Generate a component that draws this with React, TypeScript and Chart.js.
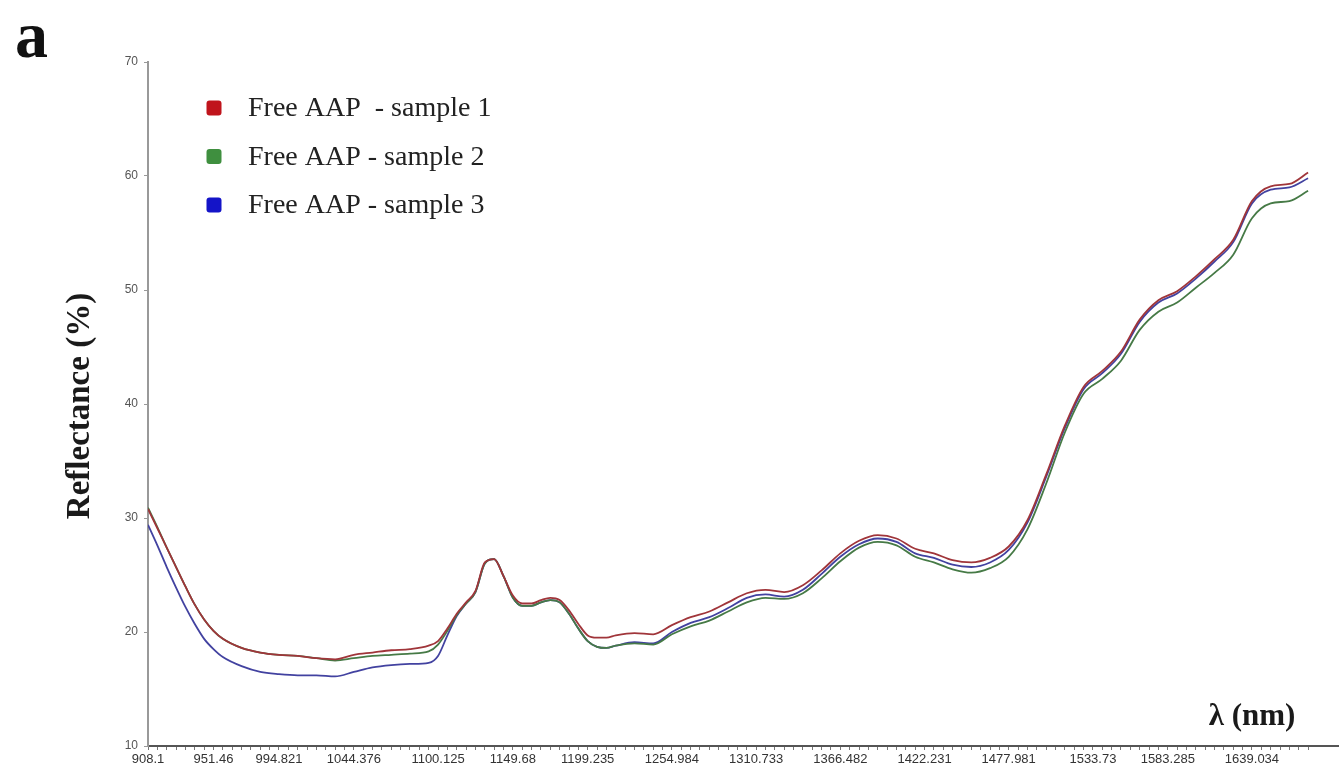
import React, { useEffect, useRef } from 'react';
import { Chart, registerables } from 'chart.js';

Chart.register(...registerables);

// Wavelengths (nm) of the plotted samples
const wavelengths = [
  908.1, 914.294, 920.489, 926.683, 932.877, 939.072, 945.266, 951.46, 957.655,
  970.044, 982.432, 994.821, 1007.21, 1019.598, 1031.987, 1044.376, 1056.765, 1069.153, 1081.542, 1093.931,
  1100.125, 1106.319, 1112.514, 1118.708, 1124.902, 1131.097, 1137.291, 1143.485, 1149.68, 1155.874,
  1162.069, 1168.263, 1174.457, 1180.652, 1186.846, 1193.04, 1199.235, 1205.429, 1211.623, 1217.818,
  1230.206, 1242.595, 1254.984, 1267.373, 1279.761, 1292.15, 1304.539, 1316.927, 1329.316, 1341.705,
  1354.094, 1366.482, 1378.871, 1391.26, 1403.648, 1416.037, 1428.426, 1440.815, 1453.203, 1465.592,
  1477.981, 1490.369, 1502.758, 1515.147, 1527.536, 1539.924, 1552.313, 1564.702, 1577.09, 1589.479,
  1601.868, 1614.257, 1626.645, 1639.034, 1651.423, 1663.811, 1676.2,
];

const sample1 = [
  30.8, 29.1, 27.4, 25.7, 24.0, 22.4, 21.1, 20.1, 19.4,
  18.6, 18.2, 18.0, 17.9, 17.7, 17.6, 18.0, 18.2, 18.4, 18.5, 18.8,
  19.2, 20.3, 21.6, 22.6, 23.6, 26.1, 26.4, 24.9, 23.2, 22.5,
  22.5, 22.8, 23.0, 22.8, 21.9, 20.7, 19.7, 19.5, 19.5, 19.7,
  19.9, 19.8, 20.6, 21.3, 21.8, 22.6, 23.4, 23.7, 23.5, 24.1,
  25.4, 26.9, 28.0, 28.5, 28.2, 27.3, 26.9, 26.3, 26.1, 26.5,
  27.5, 29.8, 33.8, 38.1, 41.5, 42.9, 44.6, 47.4, 49.1, 49.9,
  51.2, 52.7, 54.4, 57.8, 59.1, 59.3, 60.3,
];

const sample2 = [
  30.9, 29.2, 27.4, 25.7, 24.0, 22.4, 21.1, 20.1, 19.4,
  18.6, 18.2, 18.0, 17.9, 17.7, 17.5, 17.7, 17.9, 18.0, 18.1, 18.3,
  18.9, 20.1, 21.5, 22.5, 23.5, 26.0, 26.4, 24.9, 23.0, 22.3,
  22.3, 22.6, 22.8, 22.6, 21.6, 20.3, 19.2, 18.7, 18.6, 18.8,
  19.0, 18.9, 19.8, 20.5, 21.0, 21.8, 22.6, 23.0, 22.9, 23.4,
  24.7, 26.2, 27.4, 27.9, 27.6, 26.6, 26.1, 25.5, 25.2, 25.6,
  26.6, 29.0, 33.0, 37.5, 40.9, 42.2, 43.8, 46.5, 48.1, 48.9,
  50.2, 51.5, 53.1, 56.3, 57.6, 57.8, 58.7,
];

const sample3 = [
  29.4, 27.6, 25.7, 23.9, 22.2, 20.7, 19.4, 18.5, 17.8,
  17.0, 16.5, 16.3, 16.2, 16.2, 16.1, 16.5, 16.9, 17.1, 17.2, 17.3,
  17.9, 19.7, 21.4, 22.5, 23.5, 26.0, 26.4, 24.9, 23.0, 22.3,
  22.3, 22.6, 22.8, 22.6, 21.6, 20.3, 19.2, 18.7, 18.6, 18.8,
  19.1, 19.0, 20.0, 20.8, 21.3, 22.1, 23.0, 23.3, 23.1, 23.7,
  25.1, 26.6, 27.7, 28.2, 27.9, 26.9, 26.5, 25.9, 25.7, 26.1,
  27.2, 29.6, 33.6, 37.9, 41.3, 42.7, 44.4, 47.2, 48.9, 49.7,
  51.0, 52.5, 54.2, 57.6, 58.8, 59.0, 59.8,
];

const seriesLabels = ['Free AAP  - sample 1', 'Free AAP - sample 2', 'Free AAP - sample 3'];
const lineColors = ['#a0353a', '#467a46', '#4242a0'];
const legendColors = ['#c0141c', '#3f8f3f', '#1414c8'];

// Labelled x ticks
const xTickLabels = [
  '908.1', '951.46', '994.821', '1044.376', '1100.125', '1149.68', '1199.235', '1254.984',
  '1310.733', '1366.482', '1422.231', '1477.981', '1533.73', '1583.285', '1639.034',
];

// Instrument wavelength grid (minor tick marks)
const gridStart = 908.1;
const gridStep = 6.194355;
const gridCount = 125;

const yMin = 10;
const yMax = 70;
const yStep = 10;
const xMin = 908.1;
const xMax = 1696;

const SERIF = '"Liberation Serif", "Times New Roman", Times, serif';
const SANS = '"Liberation Sans", Arial, Helvetica, sans-serif';

function buildXTicks() {
  const values: number[] = [];
  const labels: string[] = [];
  for (let i = 0; i < gridCount; i++) {
    const v = gridStart + gridStep * i;
    const match = xTickLabels.find((t) => Math.abs(parseFloat(t) - v) < 0.5);
    values.push(match ? parseFloat(match) : v);
    labels.push(match || '');
  }
  return { values, labels };
}

const overlayPlugin = {
  id: 'overlayTexts',
  afterDraw(chart: any) {
    const ctx: CanvasRenderingContext2D = chart.ctx;
    ctx.save();
    ctx.fillStyle = '#111';
    ctx.font = `bold 66px ${SERIF}`;
    ctx.textAlign = 'left';
    ctx.textBaseline = 'alphabetic';
    ctx.fillText('a', 15, 57);

    ctx.save();
    ctx.translate(80, 406);
    ctx.rotate(-Math.PI / 2);
    ctx.font = `bold 33px ${SERIF}`;
    ctx.textAlign = 'center';
    ctx.textBaseline = 'middle';
    ctx.fillStyle = '#1a1a1a';
    ctx.fillText('Reflectance (%)', 0, 0);
    ctx.restore();

    ctx.font = `bold 31px ${SERIF}`;
    ctx.textAlign = 'center';
    ctx.textBaseline = 'middle';
    ctx.fillStyle = '#1a1a1a';
    ctx.fillText('λ (nm)', 1252, 717);

    // legend
    chart.data.datasets.forEach((ds: any, i: number) => {
      const cy = 108 + i * 48.5;
      const cx = 214;
      const s = 15;
      ctx.fillStyle = legendColors[i];
      ctx.beginPath();
      (ctx as any).roundRect(cx - s / 2, cy - s / 2, s, s, 3);
      ctx.fill();
      ctx.fillStyle = '#222';
      ctx.font = `28px ${SERIF}`;
      ctx.textAlign = 'left';
      ctx.textBaseline = 'middle';
      ctx.fillText(ds.label, 248, cy + 1);
    });
    ctx.restore();
  },
};

export default function App() {
  const canvasRef = useRef<HTMLCanvasElement | null>(null);

  useEffect(() => {
    if (!canvasRef.current) return;
    const { values: xTickValues, labels: xLabels } = buildXTicks();
    const series = [sample1, sample2, sample3];
    const chart = new Chart(canvasRef.current, {
      type: 'line',
      data: {
        datasets: series.map((s, i) => ({
          label: seriesLabels[i],
          data: s.map((y, j) => ({ x: wavelengths[j], y })),
          borderColor: lineColors[i],
          backgroundColor: lineColors[i],
          borderWidth: 1.8,
          pointRadius: 0,
          fill: false,
          cubicInterpolationMode: 'monotone' as const,
        })),
      },
      plugins: [overlayPlugin],
      options: {
        animation: false,
        responsive: false,
        devicePixelRatio: 1,
        layout: { padding: { left: 0, top: 62, right: 2, bottom: 0 } },
        plugins: {
          legend: { display: false },
          tooltip: { enabled: false },
        },
        scales: {
          x: {
            type: 'linear',
            min: xMin,
            max: xMax,
            afterBuildTicks: (scale: any) => {
              scale.ticks = xTickValues.map((v) => ({ value: v }));
            },
            afterFit: (scale: any) => {
              scale.height = 26;
            },
            ticks: {
              autoSkip: false,
              maxRotation: 0,
              minRotation: 0,
              padding: 2,
              color: '#333',
              font: { family: SANS, size: 13 },
              callback: (_v: any, index: number) => xLabels[index] ?? '',
            },
            grid: {
              display: true,
              drawOnChartArea: false,
              drawTicks: true,
              tickLength: 4,
              color: '#777',
            },
            border: { display: true, color: '#555', width: 2 },
          },
          y: {
            type: 'linear',
            min: yMin,
            max: yMax,
            afterFit: (scale: any) => {
              scale.width = 148;
            },
            ticks: {
              stepSize: yStep,
              padding: 6,
              color: '#555',
              font: { family: SANS, size: 12 },
            },
            grid: {
              display: true,
              drawOnChartArea: false,
              drawTicks: true,
              tickLength: 4,
              color: '#999',
            },
            border: { display: true, color: '#999', width: 2 },
          },
        },
      },
    });
    return () => chart.destroy();
  }, []);

  return (
    <div
      style={{
        position: 'fixed',
        left: 0,
        top: 0,
        width: 1340,
        height: 772,
        background: '#fff',
        overflow: 'hidden',
      }}
    >
      <canvas ref={canvasRef} width={1340} height={772} style={{ display: 'block' }} />
    </div>
  );
}
